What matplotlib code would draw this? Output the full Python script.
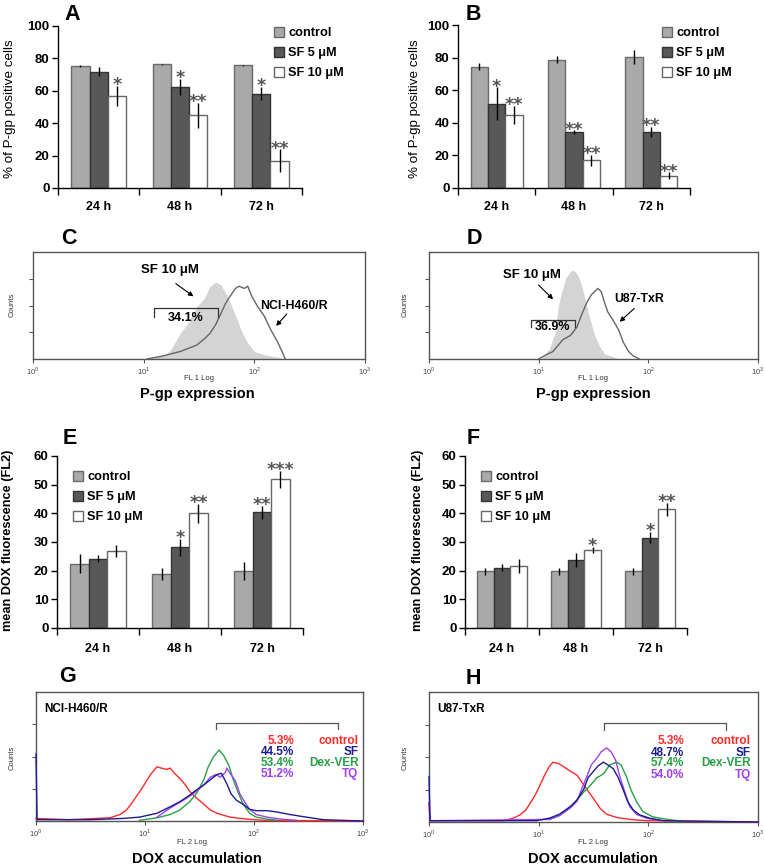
import matplotlib
matplotlib.use('Agg')
import matplotlib.pyplot as plt
import numpy as np

plt.rcParams['font.family'] = ['Liberation Sans', 'DejaVu Sans']
plt.rcParams['mathtext.fontset'] = 'custom'
plt.rcParams['mathtext.rm'] = 'Liberation Sans'

W, H = 764, 868

# ---- bar chart data ----
times = ['24 h', '48 h', '72 h']
groups = ['control', 'SF 5 μM', 'SF 10 μM']

a_vals = [[75.4, 76.4, 75.8], [71.9, 62.2, 58.3], [56.9, 44.8, 16.8]]
a_errs = [[0.5, 0.3, 0.3], [3.0, 5.0, 4.0], [6.0, 7.7, 7.0]]
a_stars = [['', '', ''], ['', '*', '*'], ['*', '**', '**']]

b_vals = [[74.5, 78.8, 80.2], [51.8, 34.3, 34.3], [44.9, 17.1, 7.6]]
b_errs = [[2.0, 2.2, 4.2], [10.0, 1.0, 3.3], [5.5, 3.3, 2.0]]
b_stars = [['', '', ''], ['*', '**', '**'], ['**', '**', '**']]

e_vals = [[22.5, 18.8, 19.8], [24.2, 28.1, 40.3], [26.9, 40.0, 51.9]]
e_errs = [[3.3, 2.2, 3.1], [1.2, 3.0, 2.3], [2.0, 3.2, 3.0]]
e_stars = [['', '', ''], ['', '*', '**'], ['', '**', '***']]

f_vals = [[19.8, 19.8, 19.8], [21.0, 23.7, 31.5], [21.6, 27.2, 41.4]]
f_errs = [[1.2, 1.2, 1.2], [1.2, 2.5, 2.0], [2.5, 1.0, 2.2]]
f_stars = [['', '', ''], ['', '', '*'], ['', '*', '**']]

# ---- flow histograms (x in log10 FL units, y in % of axis height) ----
c_fill_x = [1.0, 1.06, 1.18, 1.24, 1.33, 1.39, 1.48, 1.55, 1.60, 1.65, 1.70, 1.76, 1.82, 1.88, 1.94, 2.00, 2.09, 2.21, 2.27]
c_fill_y = [0, 1, 3, 8, 24, 32, 49, 57, 68, 72, 69, 58, 43, 27, 15, 7, 4, 2, 0]
c_line_x = [1.03, 1.18, 1.33, 1.48, 1.55, 1.60, 1.65, 1.70, 1.74, 1.79, 1.83, 1.86, 1.91, 1.94, 1.98, 2.03, 2.09, 2.15, 2.21, 2.25, 2.28]
c_line_y = [0, 3, 7, 13, 19, 24, 32, 43, 52, 60, 66, 68, 66, 68, 58, 49, 40, 27, 16, 7, 0]

d_fill_x = [1.02, 1.04, 1.10, 1.15, 1.18, 1.21, 1.25, 1.30, 1.33, 1.36, 1.39, 1.42, 1.45, 1.48, 1.51, 1.56, 1.60, 1.68, 1.74]
d_fill_y = [0, 2, 10, 25, 50, 63, 76, 83, 82, 78, 69, 57, 44, 33, 22, 11, 5, 2, 0]
d_line_x = [1.0, 1.07, 1.13, 1.22, 1.29, 1.35, 1.39, 1.44, 1.48, 1.51, 1.54, 1.57, 1.60, 1.63, 1.68, 1.73, 1.77, 1.82, 1.86, 1.92]
d_line_y = [0, 4, 7, 18, 22, 30, 41, 53, 60, 63, 66, 63, 53, 44, 36, 27, 16, 7, 3, 0]

g_red_x = [0.0, 0.3, 0.68, 0.77, 0.83, 0.88, 0.92, 0.97, 1.02, 1.06, 1.11, 1.15, 1.20, 1.23, 1.27, 1.32, 1.37, 1.41, 1.47, 1.54, 1.60, 1.66, 1.78, 1.93, 2.09, 3.0]
g_red_y = [2, 1, 2.5, 5, 8.5, 14, 19, 25, 32, 37, 42, 41, 40, 41, 37, 33, 28, 23, 18, 13, 8.5, 6, 3, 1.5, 0.5, 0]
g_blue_x = [0.0, 0.01, 0.5, 0.80, 0.95, 1.11, 1.23, 1.32, 1.41, 1.47, 1.54, 1.60, 1.66, 1.70, 1.75, 1.79, 1.84, 1.90, 1.96, 2.02, 2.12, 2.21, 2.33, 2.48, 2.64, 3.0]
g_blue_y = [52, 1, 1, 2, 3, 6, 11, 15, 20, 24, 28, 32, 36, 37, 29, 21, 16, 13, 9, 8, 8, 7, 5, 3, 1, 0]
g_green_x = [0.95, 1.11, 1.23, 1.32, 1.41, 1.47, 1.54, 1.58, 1.63, 1.68, 1.72, 1.77, 1.81, 1.86, 1.90, 1.96, 2.02, 2.12, 2.21]
g_green_y = [0.5, 2.5, 5, 8.5, 15, 21, 32, 42, 50, 55, 51, 43, 32, 21, 13, 6, 3, 1.5, 0.5]
g_purple_x = [1.11, 1.23, 1.35, 1.44, 1.54, 1.60, 1.65, 1.69, 1.74, 1.75, 1.78, 1.83, 1.87, 1.92, 1.96, 2.02, 2.12, 2.24, 2.39]
g_purple_y = [3, 10, 16, 21, 28, 34, 36, 34, 38, 41, 37, 31, 21, 14, 9, 5, 3, 1.5, 0.5]

h_red_x = [0.0, 0.01, 0.3, 0.68, 0.77, 0.83, 0.88, 0.92, 0.97, 1.01, 1.06, 1.10, 1.13, 1.18, 1.22, 1.29, 1.35, 1.39, 1.44, 1.50, 1.56, 1.62, 1.71, 1.83, 1.98, 3.0]
h_red_y = [15, 1, 1, 1, 3, 5.5, 9, 14, 21, 28, 37, 43, 46, 45, 43, 39, 36, 31, 25, 18, 10.5, 6, 3.5, 2, 1, 0]
h_blue_x = [0.0, 0.01, 0.5, 0.98, 1.10, 1.19, 1.29, 1.35, 1.41, 1.45, 1.50, 1.54, 1.59, 1.63, 1.68, 1.72, 1.77, 1.81, 1.86, 1.92, 2.01, 2.14, 3.0]
h_blue_y = [35, 1, 1, 1, 3, 6, 12, 17, 25, 34, 39, 43, 46, 44, 41, 35, 25, 16, 9.5, 5.5, 3, 1, 0]
h_green_x = [1.10, 1.19, 1.29, 1.35, 1.41, 1.47, 1.53, 1.59, 1.65, 1.71, 1.75, 1.80, 1.84, 1.89, 1.95, 2.04, 2.17, 2.32]
h_green_y = [2, 5, 11, 17, 23, 28, 34, 37, 44, 46, 44, 35, 25, 16, 8, 4, 2, 0.5]
h_purple_x = [0.0, 0.01, 1.10, 1.19, 1.29, 1.35, 1.39, 1.44, 1.48, 1.53, 1.57, 1.62, 1.66, 1.70, 1.74, 1.79, 1.83, 1.89, 1.98, 2.11]
h_purple_y = [15, 1, 2, 5, 11, 16, 25, 35, 44, 49, 54, 57, 54, 48, 35, 22, 12, 6, 3, 1]

g_pcts = ['5.3%', '44.5%', '53.4%', '51.2%']
h_pcts = ['5.3%', '48.7%', '57.4%', '54.0%']
dox_names = ['control', 'SF', 'Dex-VER', 'TQ']
dox_colors = ['#ff2a2a', '#1c1c8f', '#27a043', '#a040f0']

bar_faces = ['#a9a9a9', '#585858', 'white']
bar_edges = ['#6a6a6a', '#333333', '#666666']

fig = plt.figure(figsize=(W / 100, H / 100), dpi=100)


def add_ax(l, t, r, b):
    return fig.add_axes([l / W, 1 - b / H, (r - l) / W, (b - t) / H])


def ftext(x, y, s, **kw):
    fig.text(x / W, 1 - y / H, s, **kw)


def bar_panel(ax, vals, errs, stars, ymax, ystep, legend_xy):
    x = np.arange(3)
    bw = 0.225
    for i in range(3):
        pos = x + (i - 1) * bw
        ax.bar(pos, vals[i], bw, color=bar_faces[i], edgecolor=bar_edges[i],
               linewidth=1, label=groups[i], zorder=2)
        ax.errorbar(pos, vals[i], yerr=errs[i], fmt='none', ecolor='black',
                    elinewidth=1, capsize=0, zorder=3)
        for p, v, e, s in zip(pos, vals[i], errs[i], stars[i]):
            if s:
                ax.annotate(s, (p, v + e), xytext=(0, -6), textcoords='offset points',
                            ha='center', va='bottom', fontsize=12.5, color='#555555',
                            family='DejaVu Sans', fontweight='bold')
    ax.set_xlim(-0.5, 2.5)
    ax.set_ylim(0, ymax)
    ax.set_yticks(range(0, ymax + 1, ystep))
    ax.set_xticks([-0.5, 0.5, 1.5, 2.5])
    ax.set_xticklabels([])
    ax.set_xticks(x, minor=True)
    ax.set_xticklabels(times, minor=True)
    ax.tick_params(axis='x', which='minor', length=0, pad=9, labelsize=9)
    ax.tick_params(axis='x', which='major', length=5, width=1, direction='out')
    ax.tick_params(axis='y', length=4, width=1, labelsize=9.5, pad=2)
    for lab in ax.get_yticklabels() + ax.get_xticklabels(minor=True):
        lab.set_fontweight('bold')
    for sp in ['top', 'right']:
        ax.spines[sp].set_visible(False)
    for sp in ['left', 'bottom']:
        ax.spines[sp].set_linewidth(1)
    ax.legend(loc='upper left', bbox_to_anchor=(legend_xy[0] / W, 1 - legend_xy[1] / H),
              bbox_transform=fig.transFigure, frameon=False, handlelength=0.8,
              handleheight=0.8, handletextpad=0.3, labelspacing=0.6, borderpad=0,
              borderaxespad=0, prop={'weight': 'bold', 'size': 9.2})


def hist_axes(ax):
    ax.set_xscale('log')
    ax.set_xlim(1, 1000)
    ax.set_ylim(0, 100)
    ax.set_xticks([1, 10, 100, 1000])
    ax.set_xticklabels(['$10^0$', '$10^1$', '$10^2$', '$10^3$'])
    ax.xaxis.set_minor_locator(matplotlib.ticker.NullLocator())
    ax.set_yticks([25, 50, 75])
    ax.set_yticklabels([])
    ax.tick_params(length=3, width=0.8, color='#555555', labelsize=5.5,
                   labelcolor='#444444', pad=1.5)
    for sp in ax.spines.values():
        sp.set_color('#555555')
        sp.set_linewidth(1)
        sp.set_zorder(1)


def lx(v):
    return 10 ** np.array(v)


# ---- A / B ----
axA = add_ax(58, 26, 302, 188)
bar_panel(axA, a_vals, a_errs, a_stars, 100, 20, (274, 27))
axB = add_ax(458, 25, 690, 188)
bar_panel(axB, b_vals, b_errs, b_stars, 100, 20, (662, 27))
ftext(10, 109, '% of P-gp positive cells', rotation=90, ha='center', va='center', fontsize=9.6)
ftext(415, 109, '% of P-gp positive cells', rotation=90, ha='center', va='center', fontsize=9.6)

# ---- C / D ----
arrow = dict(arrowstyle='-|>', color='black', lw=0.8, mutation_scale=7)
axC = add_ax(33, 252, 365, 359)
hist_axes(axC)
axC.fill_between(lx(c_fill_x), c_fill_y, color='#d4d4d4', lw=0)
axC.plot(lx(c_line_x), c_line_y, color='#666666', lw=1)
axC.text(10 ** 1.24, 83, 'SF 10 μM', ha='center', va='center', fontsize=9.5, fontweight='bold')
axC.annotate('', xy=(10 ** 1.47, 57), xytext=(10 ** 1.27, 72), arrowprops=arrow)
axC.text(10 ** 2.36, 49.5, 'NCI-H460/R', ha='center', va='center', fontsize=8.8, fontweight='bold')
axC.annotate('', xy=(10 ** 2.18, 29), xytext=(10 ** 2.31, 44), arrowprops=arrow)
axC.plot(lx([1.095, 1.095, 1.668, 1.668]), [39, 48, 48, 39], color='#333333', lw=0.9)
axC.text(10 ** 1.38, 38, '34.1%', ha='center', va='center', fontsize=9, fontweight='bold')

axD = add_ax(429, 252, 758, 359)
hist_axes(axD)
axD.fill_between(lx(d_fill_x), d_fill_y, color='#d4d4d4', lw=0)
axD.plot(lx(d_line_x), d_line_y, color='#666666', lw=1)
axD.text(10 ** 0.935, 78.5, 'SF 10 μM', ha='center', va='center', fontsize=9.5, fontweight='bold')
axD.annotate('', xy=(10 ** 1.15, 54), xytext=(10 ** 0.98, 71), arrowprops=arrow)
axD.text(10 ** 1.92, 56, 'U87-TxR', ha='center', va='center', fontsize=8.8, fontweight='bold')
axD.annotate('', xy=(10 ** 1.72, 33), xytext=(10 ** 1.89, 49), arrowprops=arrow)
axD.plot(lx([0.927, 0.927, 1.33, 1.33]), [30, 36.5, 36.5, 30], color='#333333', lw=0.9)
axD.text(10 ** 1.13, 30, '36.9%', ha='center', va='center', fontsize=9, fontweight='bold')

for cx in (12, 405):
    ftext(cx, 305, 'Counts', rotation=90, ha='center', va='center', fontsize=5.5, color='#333333')
ftext(199, 378, 'FL 1 Log', ha='center', va='center', fontsize=5.5, color='#333333')
ftext(593, 378, 'FL 1 Log', ha='center', va='center', fontsize=5.5, color='#333333')
ftext(197, 394, 'P-gp expression', ha='center', va='center', fontsize=10.5, fontweight='bold')
ftext(593, 394, 'P-gp expression', ha='center', va='center', fontsize=10.5, fontweight='bold')

# ---- E / F ----
axE = add_ax(57, 456, 303, 628)
bar_panel(axE, e_vals, e_errs, e_stars, 60, 10, (73, 471))
axF = add_ax(465, 456, 687, 628)
bar_panel(axF, f_vals, f_errs, f_stars, 60, 10, (481, 471))
ftext(8, 540, 'mean DOX fluorescence (FL2)', rotation=90, ha='center', va='center',
      fontsize=9.2, fontweight='bold')
ftext(418, 540, 'mean DOX fluorescence (FL2)', rotation=90, ha='center', va='center',
      fontsize=9.2, fontweight='bold')
for ax in (axE, axF):
    ax.tick_params(axis='x', which='minor', pad=11)

# ---- G / H ----
axG = add_ax(36, 692, 363, 821)
axH = add_ax(429, 692, 758, 822)
g_series = [(g_red_x, g_red_y), (g_blue_x, g_blue_y), (g_green_x, g_green_y), (g_purple_x, g_purple_y)]
h_series = [(h_red_x, h_red_y), (h_blue_x, h_blue_y), (h_green_x, h_green_y), (h_purple_x, h_purple_y)]
plot_order = [0, 2, 3, 1]
for ax, series, pcts, name, br, pct_x, name_x, rows in [
        (axG, g_series, g_pcts, 'NCI-H460/R', (1.65, 2.77), 0.789, 0.986, [0.622, 0.537, 0.451, 0.366]),
        (axH, h_series, h_pcts, 'U87-TxR', (1.595, 2.71), 0.775, 0.978, [0.625, 0.533, 0.451, 0.362])]:
    hist_axes(ax)
    for k in plot_order:
        sx, sy = series[k]
        ax.plot(lx(sx), sy, color=dox_colors[k], lw=1, zorder=3, clip_on=False)
    ax.text(0.025, 0.87, name, transform=ax.transAxes, ha='left', va='center',
            fontsize=8.5, fontweight='bold')
    ax.plot(lx([br[0], br[0], br[1], br[1]]), [71, 76, 76, 71], color='#555555', lw=0.9)
    for k in range(4):
        ax.text(pct_x, rows[k], pcts[k], transform=ax.transAxes, ha='right', va='center',
                fontsize=8.5, fontweight='bold', color=dox_colors[k])
        ax.text(name_x, rows[k], dox_names[k], transform=ax.transAxes, ha='right', va='center',
                fontsize=8.5, fontweight='bold', color=dox_colors[k])

for cx in (12, 405):
    ftext(cx, 758, 'Counts', rotation=90, ha='center', va='center', fontsize=5.5, color='#333333')
ftext(192, 843, 'FL 2 Log', ha='center', va='center', fontsize=5.5, color='#333333')
ftext(593, 843, 'FL 2 Log', ha='center', va='center', fontsize=5.5, color='#333333')
ftext(197, 859, 'DOX accumulation', ha='center', va='center', fontsize=10.5, fontweight='bold')
ftext(593, 859, 'DOX accumulation', ha='center', va='center', fontsize=10.5, fontweight='bold')

# panel letters
for letter, px, py in [('A', 72, 14), ('B', 473, 14), ('C', 69, 238), ('D', 474, 238),
                       ('E', 70, 438), ('F', 473, 438), ('G', 68, 677), ('H', 473, 678)]:
    ftext(px, py, letter, ha='center', va='center', fontsize=15.5, fontweight='bold')

fig.savefig('out.png', dpi=100)
